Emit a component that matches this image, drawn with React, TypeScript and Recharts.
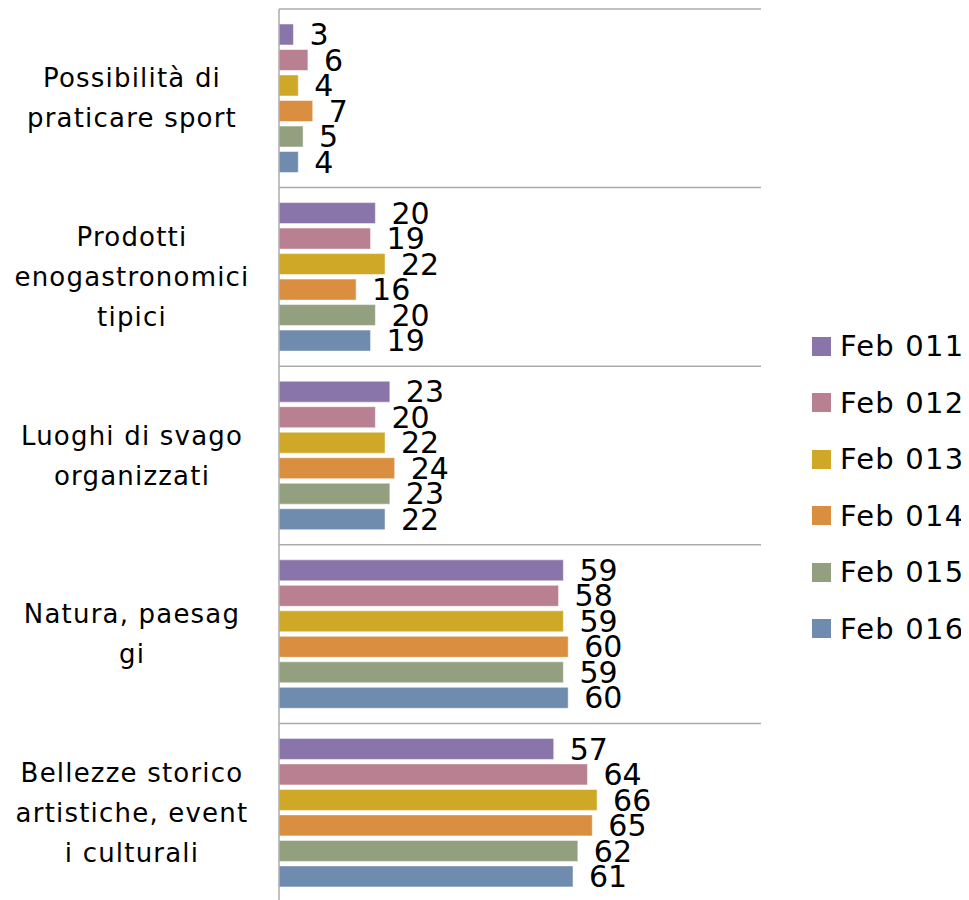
import { BarChart, Bar, XAxis, YAxis, CartesianGrid, LabelList } from "recharts";

const categories = [
  "Possibilità di praticare sport",
  "Prodotti enogastronomici tipici",
  "Luoghi di svago organizzati",
  "Natura, paesaggi",
  "Bellezze storico artistiche, eventi culturali",
];

// line breaks as they appear in the original
const categoryLines = [
  ["Possibilità di", "praticare sport"],
  ["Prodotti", "enogastronomici", "tipici"],
  ["Luoghi di svago", "organizzati"],
  ["Natura, paesag", "gi"],
  ["Bellezze storico", "artistiche, event", "i culturali"],
];

const seriesNames = ["Feb 011", "Feb 012", "Feb 013", "Feb 014", "Feb 015", "Feb 016"];
const seriesColors = ["#8a75aa", "#b98092", "#cea826", "#d98f3f", "#93a07f", "#6f8bad"];

const feb011 = [3, 20, 23, 59, 57];
const feb012 = [6, 19, 20, 58, 64];
const feb013 = [4, 22, 22, 59, 66];
const feb014 = [7, 16, 24, 60, 65];
const feb015 = [5, 20, 23, 59, 62];
const feb016 = [4, 19, 22, 60, 61];

const seriesValues = [feb011, feb012, feb013, feb014, feb015, feb016];

const data = categories.map((category, i) => {
  const row: Record<string, string | number> = { category };
  seriesNames.forEach((name, s) => {
    row[name] = seriesValues[s][i];
  });
  return row;
});

const FONT = "'DejaVu Sans', sans-serif";

const CategoryTick = ({ y, index }: any) => {
  const lines = categoryLines[index] || [];
  const lineHeight = 40;
  const startY = y - ((lines.length - 1) * lineHeight) / 2;
  return (
    <text
      x={124}
      y={startY}
      textAnchor="middle"
      dominantBaseline="central"
      fontSize={26}
      letterSpacing={1.2}
      fontFamily={FONT}
      fill="#000"
    >
      {lines.map((line, i) => (
        <tspan key={i} x={124} y={startY + i * lineHeight}>
          {line}
        </tspan>
      ))}
    </text>
  );
};

const App = () => {
  const gridGenerator = ({ offset }: any) => {
    const lines: number[] = [];
    for (let i = 0; i <= categories.length; i++) {
      lines.push(offset.top + (offset.height * i) / categories.length);
    }
    return lines;
  };

  return (
    <div style={{ position: "relative", width: 961, height: 900 }}>
      <BarChart
        width={961}
        height={900}
        data={data}
        layout="vertical"
        margin={{ top: 1, right: 208, left: 0, bottom: 6 }}
        barSize={21}
        barGap={4.5}
      >
        <CartesianGrid
          horizontal
          vertical={false}
          stroke="#ababab"
          strokeWidth={1.5}
          horizontalCoordinatesGenerator={gridGenerator}
        />
        <XAxis type="number" domain={[0, 100]} hide />
        <YAxis
          type="category"
          dataKey="category"
          width={271}
          tickLine={false}
          axisLine={{ stroke: "#ababab", strokeWidth: 1.5 }}
          tick={<CategoryTick />}
          interval={0}
        />
        {seriesNames.map((name, s) => (
          <Bar
            key={name}
            dataKey={name}
            fill={seriesColors[s]}
            stroke="#ffffff"
            strokeOpacity={0.5}
            strokeWidth={1}
            isAnimationActive={false}
          >
            <LabelList
              dataKey={name}
              position="right"
              offset={16}
              fontSize={30}
              fontFamily={FONT}
              fill="#000"
            />
          </Bar>
        ))}
      </BarChart>
      <div style={{ position: "absolute", left: 804, top: 310, fontFamily: FONT, fontSize: 29, letterSpacing: 1.2 }}>
        {seriesNames.map((name, s) => (
          <div key={name} style={{ display: "flex", alignItems: "center", height: 56.5 }}>
            <span style={{ display: "inline-block", width: 19, height: 19, background: seriesColors[s], marginRight: 9 }} />
            <span>{name}</span>
          </div>
        ))}
      </div>
    </div>
  );
};

export default App;
